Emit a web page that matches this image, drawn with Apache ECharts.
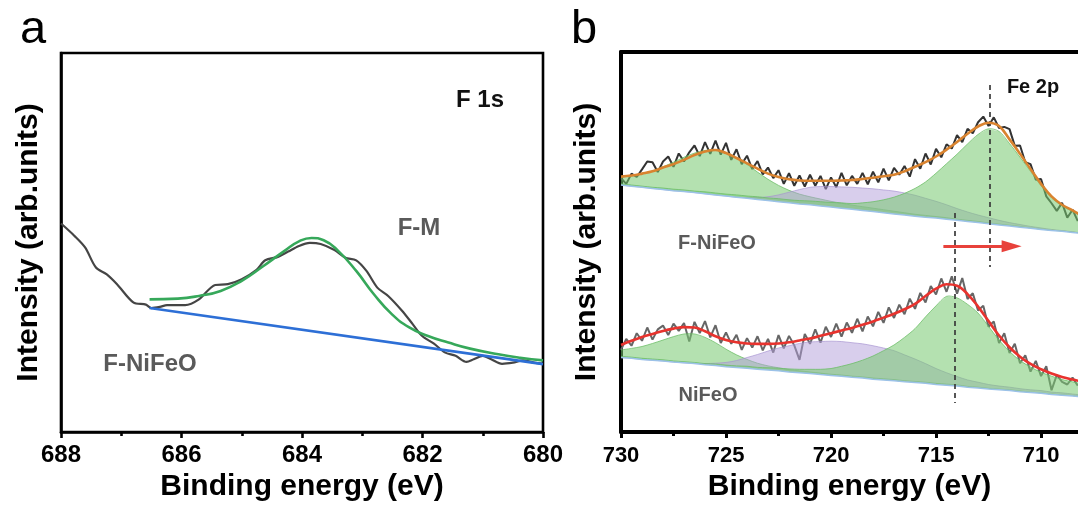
<!DOCTYPE html>
<html>
<head>
<meta charset="utf-8">
<script src="https://cdn.jsdelivr.net/npm/echarts@6/dist/echarts.min.js"></script>
<style>
  html, body { margin: 0; padding: 0; background: #fff; }
  #chart { width: 1078px; height: 508px; }
</style>
</head>
<body>
<div id="chart"></div>
<script>
// ---------- Panel a: F 1s ----------
const f1sTicks = [680, 682, 684, 686, 688];
const f1sEnergy = [688, 687.78, 687.6, 687.42, 687.24, 687.07, 686.8, 686.59, 686.5, 686.36,
  686.24, 685.94, 685.71, 685.44, 685.23, 685.0, 684.76, 684.61, 684.4, 684.23,
  684.05, 683.87, 683.69, 683.46, 683.28, 683.1, 682.93, 682.75, 682.57, 682.34,
  682.16, 682.01, 681.81, 681.63, 681.45, 681.27, 681.15, 681.0, 680.86, 680.68,
  680.5, 680.33, 680.15, 680.0];
const f1sRaw = [55.0, 51.8, 48.7, 43.4, 41.6, 39.0, 34.2, 33.6, 32.7, 33.0,
  33.5, 33.5, 35.0, 38.8, 39.0, 40.3, 42.7, 45.3, 46.2, 47.6,
  49.1, 49.9, 49.6, 48.0, 46.0, 45.3, 42.5, 38.1, 35.9, 32.0,
  28.4, 25.4, 23.3, 21.0, 20.1, 18.5, 19.2, 20.1, 19.2, 18.0,
  18.3, 18.9, 18.3, 18.0];
const f1sFitEnergy = [686.53, 686.06, 685.71, 685.35, 685.0, 684.64, 684.29, 684.05, 683.84, 683.64,
  683.4, 683.1, 682.81, 682.51, 682.22, 681.92, 681.57, 681.21, 680.74, 680.38, 680.0];
const f1sFit = [35.0, 35.2, 35.9, 37.2, 39.9, 43.8, 47.8, 50.3, 51.2, 50.6,
  47.8, 42.5, 36.4, 31.1, 27.6, 25.4, 23.6, 22.0, 20.5, 19.6, 18.9];
const f1sBgEnergy = [686.53, 680.0];
const f1sBg = [32.7, 17.9];

// ---------- Panel b: Fe 2p ----------
const fe2pRange = [708.24, 730];
const fe2pTicks = [710, 715, 720, 725, 730];
const fe2pMinorTicks = [712.5, 717.5, 722.5, 727.5];
const fe2pRawEnergy = [
  730, 729.75, 729.5, 729.25, 729, 728.75, 728.5, 728.25,
  728, 727.75, 727.5, 727.25, 727, 726.75, 726.5, 726.25,
  726, 725.75, 725.5, 725.25, 725, 724.75, 724.5, 724.25,
  724, 723.75, 723.5, 723.25, 723, 722.75, 722.5, 722.25,
  722, 721.75, 721.5, 721.25, 721, 720.75, 720.5, 720.25,
  720, 719.75, 719.5, 719.25, 719, 718.75, 718.5, 718.25,
  718, 717.75, 717.5, 717.25, 717, 716.75, 716.5, 716.25,
  716, 715.75, 715.5, 715.25, 715, 714.75, 714.5, 714.25,
  714, 713.75, 713.5, 713.25, 713, 712.75, 712.5, 712.25,
  712, 711.75, 711.5, 711.25, 711, 710.75, 710.5, 710.25,
  710, 709.75, 709.5, 709.25, 709, 708.75, 708.5, 708.25];
const fe2pFitEnergy = [
  730, 729.5, 729, 728.5, 728, 727.5, 727, 726.5, 726,
  725.5, 725, 724.5, 724, 723.5, 723, 722.5, 722, 721.5,
  721, 720.5, 720, 719.5, 719, 718.5, 718, 717.5, 717,
  716.5, 716, 715.5, 715, 714.5, 714, 713.5, 713, 712.5,
  712, 711.5, 711, 710.5, 710, 709.5, 709, 708.5, 708];

// F-NiFeO
const fNiFeORaw = [
  66.8, 65.3, 68.0, 67.1, 69.1, 71.2, 71.0, 68.4,
  71.2, 72.5, 69.8, 73.3, 71.2, 73.6, 75.4, 72.6,
  76.3, 73.2, 76.7, 73.0, 76.1, 71.6, 74.4, 70.5,
  72.7, 69.2, 71.3, 67.8, 69.6, 66.8, 68.9, 65.3,
  68.1, 64.8, 67.5, 64.6, 67.7, 64.8, 67.4, 63.9,
  67.0, 64.4, 68.2, 64.9, 67.4, 65.3, 68.2, 65.2,
  68.5, 65.7, 69.3, 66.2, 69.5, 67.7, 70.0, 67.2,
  71.8, 69.3, 73.3, 70.4, 74.5, 72.3, 75.7, 74.6,
  78.1, 76.3, 79.8, 78.6, 81.5, 83.0, 80.5, 82.8,
  80.0, 80.3, 79.7, 75.3, 75.4, 71.0, 70.5, 66.4,
  66.6, 62.0, 60.2, 58.2, 60.3, 56.4, 58.5, 55.5];
const fNiFeOFit = [
  67.2, 67.5, 68.0, 68.6, 69.6, 70.5, 71.6, 72.9, 73.8,
  74.2, 73.4, 72.1, 70.7, 69.3, 68.0, 67.1, 66.5, 66.2,
  66.1, 66.1, 66.1, 66.2, 66.3, 66.6, 66.9, 67.3, 67.7,
  68.6, 69.8, 71.0, 72.5, 74.3, 76.3, 78.5, 80.4, 81.4,
  80.5, 77.0, 73.2, 69.2, 65.3, 62.0, 59.8, 58.3, 56.8];
const fNiFeOBg = [
  65.0, 64.7, 64.4, 64.1, 63.8, 63.5, 63.3, 63.0, 62.7,
  62.4, 62.1, 61.8, 61.5, 61.2, 60.9, 60.6, 60.3, 60.0,
  59.8, 59.5, 59.2, 58.9, 58.6, 58.3, 58.0, 57.7, 57.4,
  57.1, 56.8, 56.5, 56.3, 56.0, 55.7, 55.4, 55.1, 54.8,
  54.5, 54.2, 53.9, 53.6, 53.3, 53.0, 52.8, 52.5, 52.2];
const fNiFeOPeak1 = [
  2.1, 2.7, 3.5, 4.6, 6.0, 7.5, 9.0, 10.4, 11.4,
  11.8, 11.4, 10.4, 8.9, 7.2, 5.6, 4.3, 3.3, 2.6,
  2.1, 1.8, 1.5, 1.3, 1.1, 1.0, 0.9, 0.8, 0.7,
  0.6, 0.5, 0.5, 0.4, 0.4, 0.3, 0.3, 0.3, 0.2,
  0.2, 0.2, 0.2, 0.1, 0.1, 0.1, 0.1, 0.1, 0.1];
const fNiFeOSat = [
  0, 0, 0, 0, 0, 0, 0, 0, 0,
  0, 0, 0, 0.2, 0.5, 1.0, 1.8, 2.8, 3.8,
  4.6, 5.1, 5.4, 5.6, 5.8, 5.9, 6.0, 6.0, 6.0,
  5.8, 5.5, 5.0, 4.4, 3.8, 3.1, 2.5, 2.0, 1.6,
  1.2, 0.9, 0.7, 0.5, 0.4, 0.3, 0.2, 0.2, 0.1];
const fNiFeOPeak2 = [
  0.3, 0.3, 0.3, 0.3, 0.4, 0.4, 0.4, 0.4, 0.5,
  0.5, 0.5, 0.6, 0.6, 0.7, 0.7, 0.8, 0.8, 0.9,
  1.0, 1.1, 1.2, 1.4, 1.5, 2.0, 2.6, 3.4, 4.4,
  5.7, 7.3, 9.3, 11.8, 14.6, 17.4, 20.4, 23.2, 25.0,
  24.6, 21.7, 18.4, 15.0, 11.5, 8.6, 6.7, 5.5, 4.4];

// NiFeO
const niFeORaw = [
  21.6, 24.5, 22.7, 26.0, 24.0, 27.5, 24.3, 27.0,
  28.0, 25.5, 28.5, 26.6, 28.7, 23.8, 29.0, 26.0,
  29.2, 24.9, 28.1, 23.4, 26.2, 23.2, 25.6, 21.6,
  24.7, 22.2, 25.2, 21.5, 24.5, 20.9, 25.5, 22.0,
  25.3, 22.8, 19.0, 25.8, 23.2, 27.0, 23.5, 27.7,
  25.0, 28.5, 25.1, 28.8, 26.1, 29.8, 26.5, 30.4,
  27.8, 31.6, 28.7, 32.8, 30.0, 33.5, 31.0, 35.1,
  32.4, 36.6, 34.1, 38.4, 36.2, 40.4, 36.9, 41.0,
  36.4, 40.5, 35.0, 36.5, 32.0, 33.2, 27.7, 29.1,
  23.4, 26.0, 20.8, 23.2, 18.1, 20.2, 15.9, 18.7,
  14.7, 17.3, 11.0, 15.0, 13.2, 12.5, 14.3, 12.2];
const niFeOFit = [
  22.9, 24.0, 25.0, 25.8, 26.6, 27.2, 27.6, 27.5, 26.5,
  25.2, 24.2, 23.6, 23.3, 23.2, 23.2, 23.3, 23.6, 24.1,
  24.6, 25.3, 26.0, 26.7, 27.4, 28.2, 29.1, 30.1, 31.1,
  32.3, 33.7, 35.8, 37.7, 38.9, 38.5, 36.3, 33.0, 29.2,
  25.4, 22.3, 19.8, 17.9, 16.5, 15.4, 14.5, 13.8, 13.2];
const niFeOBg = [
  19.6, 19.4, 19.1, 18.9, 18.7, 18.4, 18.2, 18.0, 17.7,
  17.5, 17.2, 17.0, 16.8, 16.5, 16.3, 16.1, 15.8, 15.6,
  15.4, 15.1, 14.9, 14.7, 14.4, 14.2, 13.9, 13.7, 13.5,
  13.2, 13.0, 12.8, 12.5, 12.3, 12.1, 11.8, 11.6, 11.3,
  11.1, 10.9, 10.6, 10.4, 10.2, 9.9, 9.7, 9.5, 9.2];
const niFeOPeak1 = [
  2.0, 2.6, 3.4, 4.4, 5.5, 6.7, 7.6, 7.8, 7.2,
  6.0, 4.6, 3.3, 2.3, 1.6, 1.1, 0.8, 0.6, 0.5,
  0.4, 0.4, 0.3, 0.3, 0.3, 0.3, 0.3, 0.3, 0.3,
  0.3, 0.3, 0.3, 0.3, 0.3, 0.3, 0.2, 0.2, 0.2,
  0.2, 0.2, 0.2, 0.1, 0.1, 0.1, 0.1, 0.1, 0.1];
const niFeOSat = [
  0, 0, 0, 0, 0, 0, 0, 0, 0.3,
  0.6, 1.1, 1.8, 2.8, 3.9, 5.0, 6.0, 6.9, 7.7,
  8.3, 8.7, 9.0, 9.1, 9.1, 9.0, 8.8, 8.4, 7.9,
  7.1, 6.2, 5.2, 4.2, 3.3, 2.5, 1.9, 1.5, 1.2,
  1.0, 0.9, 0.8, 0.7, 0.7, 0.6, 0.6, 0.5, 0.5];
const niFeOPeak2 = [
  0.3, 0.3, 0.3, 0.3, 0.3, 0.3, 0.3, 0.3, 0.3,
  0.4, 0.4, 0.4, 0.5, 0.5, 0.6, 0.7, 0.8, 0.9,
  1.1, 1.4, 1.8, 2.6, 3.6, 4.7, 6.1, 7.7, 9.4,
  11.7, 14.2, 17.5, 20.7, 23.4, 23.2, 21.8, 19.7, 16.5,
  13.1, 10.3, 8.2, 6.7, 5.5, 4.8, 4.1, 3.7, 3.4];

// Peak-position guides [energy, top, bottom] and shift arrow [from, to, level]
const guideFNiFeO = [712.45, 91.3, 43.4];
const guideNiFeO = [714.1, 57.6, 7.6];
const shiftArrow = [714.65, 711.4, 48.9];

// ---------- helpers ----------
const zip = (xs, ys) => xs.map((x, i) => [x, ys[i]]);
const FONT = "'Liberation Sans', Arial, Helvetica, sans-serif";
const GREEN = 'rgba(118, 200, 112, 0.55)';
const GREEN_EDGE = 'rgba(105, 188, 100, 0.75)';
const PURPLE = 'rgba(178, 158, 218, 0.5)';
const PURPLE_EDGE = 'rgba(165, 145, 208, 0.65)';

// A fitted component: band between the background and background + component
function component(bg, heights, fill, edge) {
  const rows = fe2pFitEnergy.map((e, i) => [e, bg[i], bg[i] + heights[i]]);
  return {
    type: 'custom', xAxisIndex: 1, yAxisIndex: 1, silent: true, clip: true, z: 3,
    data: rows,
    encode: { x: 0, y: [1, 2] },
    renderItem: function (params, api) {
      if (params.dataIndex !== 0) return null;   // the whole band is one polygon
      const top = rows.map(r => api.coord([r[0], r[2]]));
      const bottom = rows.map(r => api.coord([r[0], r[1]])).reverse();
      return {
        type: 'group',
        children: [
          { type: 'polygon', shape: { points: top.concat(bottom) },
            style: { fill: fill, stroke: null } },
          { type: 'polyline', shape: { points: top, smooth: 0.3 },
            style: { fill: null, stroke: edge, lineWidth: 1 } }
        ]
      };
    }
  };
}

const chart = echarts.init(document.getElementById('chart'), null, { renderer: 'canvas' });

const titleStyle = { color: '#000', fontFamily: FONT, fontWeight: 'bold', fontSize: 30 };

const option = {
  animation: false,
  backgroundColor: '#fff',
  grid: [
    { left: 61, top: 53, width: 482, height: 379, show: true, borderColor: '#000', borderWidth: 2.6, backgroundColor: 'transparent' },
    { left: 621, top: 52, right: 0, height: 380, show: false }
  ],
  xAxis: [
    { // panel a
      gridIndex: 0, type: 'value', inverse: true,
      min: Math.min(...f1sTicks), max: Math.max(...f1sTicks), interval: f1sTicks[1] - f1sTicks[0],
      axisLine: { show: true, onZero: false, lineStyle: { color: '#000', width: 2.6 } },
      axisTick: { show: true, inside: false, length: 6, lineStyle: { color: '#000', width: 2.6 } },
      minorTick: { show: true, splitNumber: 2, length: 4, lineStyle: { color: '#000', width: 2.6 } },
      splitLine: { show: false },
      axisLabel: { color: '#000', fontFamily: FONT, fontWeight: 'bold', fontSize: 24, margin: 11 },
      name: 'Binding energy (eV)', nameLocation: 'middle', nameGap: 31, nameTextStyle: titleStyle
    },
    { // panel b, major ticks and labels
      gridIndex: 1, type: 'value', inverse: true, position: 'bottom',
      min: fe2pRange[0], max: fe2pRange[1],
      axisLine: { show: true, onZero: false, lineStyle: { color: '#000', width: 4 } },
      axisTick: { show: true, inside: false, length: 6, customValues: fe2pTicks, lineStyle: { color: '#000', width: 3 } },
      splitLine: { show: false },
      axisLabel: { color: '#000', fontFamily: FONT, fontWeight: 'bold', fontSize: 22, margin: 13,
                   customValues: fe2pTicks, showMinLabel: true, showMaxLabel: true },
      name: 'Binding energy (eV)', nameLocation: 'middle', nameGap: 31, nameTextStyle: titleStyle
    },
    { // panel b, minor ticks
      gridIndex: 1, type: 'value', inverse: true, position: 'bottom',
      min: fe2pRange[0], max: fe2pRange[1],
      axisLine: { show: false, onZero: false },
      axisTick: { show: true, inside: false, length: 4, customValues: fe2pMinorTicks, lineStyle: { color: '#000', width: 3 } },
      axisLabel: { show: false }, splitLine: { show: false }
    },
    { // panel b, top frame
      gridIndex: 1, type: 'value', inverse: true, position: 'top',
      min: fe2pRange[0], max: fe2pRange[1],
      axisLine: { show: true, onZero: false, lineStyle: { color: '#000', width: 4 } },
      axisTick: { show: false }, axisLabel: { show: false }, splitLine: { show: false }
    }
  ],
  yAxis: [
    { gridIndex: 0, type: 'value', min: 0, max: 100,
      axisLine: { show: true, lineStyle: { color: '#000', width: 2.6 } },
      axisTick: { show: false }, axisLabel: { show: false }, splitLine: { show: false },
      name: 'Intensity (arb.units)', nameLocation: 'middle', nameGap: 17, nameTextStyle: titleStyle },
    { gridIndex: 1, type: 'value', min: 0, max: 100,
      axisLine: { show: true, lineStyle: { color: '#000', width: 4 } },
      axisTick: { show: false }, axisLabel: { show: false }, splitLine: { show: false },
      name: 'Intensity (arb.units)', nameLocation: 'middle', nameGap: 19, nameTextStyle: titleStyle }
  ],
  series: [
    // panel a
    { type: 'line', xAxisIndex: 0, yAxisIndex: 0, symbol: 'none', smooth: 0.3,
      data: zip(f1sEnergy, f1sRaw), lineStyle: { color: '#454545', width: 2.2 }, z: 3 },
    { type: 'line', xAxisIndex: 0, yAxisIndex: 0, symbol: 'none',
      data: zip(f1sBgEnergy, f1sBg), lineStyle: { color: '#2d6fd6', width: 2.6 }, z: 4 },
    { type: 'line', xAxisIndex: 0, yAxisIndex: 0, symbol: 'none', smooth: true,
      data: zip(f1sFitEnergy, f1sFit), lineStyle: { color: '#36a85a', width: 2.6 }, z: 5 },

    // panel b: raw spectra (beneath the component fills)
    { type: 'line', xAxisIndex: 1, yAxisIndex: 1, symbol: 'none',
      data: zip(fe2pRawEnergy, fNiFeORaw), lineStyle: { color: '#333', width: 2 }, z: 2 },
    { type: 'line', xAxisIndex: 1, yAxisIndex: 1, symbol: 'none',
      data: zip(fe2pRawEnergy, niFeORaw), lineStyle: { color: '#666', width: 2 }, z: 2 },

    // F-NiFeO components
    component(fNiFeOBg, fNiFeOPeak1, GREEN, GREEN_EDGE),
    component(fNiFeOBg, fNiFeOSat, PURPLE, PURPLE_EDGE),
    component(fNiFeOBg, fNiFeOPeak2, GREEN, GREEN_EDGE),
    // NiFeO components
    component(niFeOBg, niFeOPeak1, GREEN, GREEN_EDGE),
    component(niFeOBg, niFeOSat, PURPLE, PURPLE_EDGE),
    component(niFeOBg, niFeOPeak2, GREEN, GREEN_EDGE),

    // backgrounds
    { type: 'line', xAxisIndex: 1, yAxisIndex: 1, symbol: 'none',
      data: zip(fe2pFitEnergy, fNiFeOBg), lineStyle: { color: '#9cc2e8', width: 1.5 }, z: 4 },
    { type: 'line', xAxisIndex: 1, yAxisIndex: 1, symbol: 'none',
      data: zip(fe2pFitEnergy, niFeOBg), lineStyle: { color: '#9cc2e8', width: 1.5 }, z: 4 },

    // envelopes
    { type: 'line', xAxisIndex: 1, yAxisIndex: 1, symbol: 'none', smooth: 0.4,
      data: zip(fe2pFitEnergy, fNiFeOFit), lineStyle: { color: '#d9832f', width: 2.6 }, z: 5,
      markLine: {
        silent: true, symbol: 'none', animation: false, label: { show: false },
        lineStyle: { type: [5, 4], color: '#3a3a3a', width: 1.7 },
        data: [
          [{ coord: [guideFNiFeO[0], guideFNiFeO[1]] }, { coord: [guideFNiFeO[0], guideFNiFeO[2]] }],
          [{ coord: [guideNiFeO[0], guideNiFeO[1]] }, { coord: [guideNiFeO[0], guideNiFeO[2]] }]
        ]
      } },
    { type: 'line', xAxisIndex: 1, yAxisIndex: 1, symbol: 'none', smooth: 0.4,
      data: zip(fe2pFitEnergy, niFeOFit), lineStyle: { color: '#e8332e', width: 2.6 }, z: 5,
      markLine: {
        silent: true, animation: false, label: { show: false },
        symbol: ['none', 'triangle'], symbolSize: [12, 20],
        lineStyle: { type: 'solid', color: '#e8413b', width: 3 },
        data: [
          [{ coord: [shiftArrow[0], shiftArrow[2]] }, { coord: [shiftArrow[1], shiftArrow[2]] }]
        ]
      } }
  ],
  graphic: [
    { type: 'text', x: 20, y: 30, z: 100, style: { text: 'a', font: 'normal 47px ' + FONT, fill: '#000', align: 'left', verticalAlign: 'middle' } },
    { type: 'text', x: 571, y: 30, z: 100, style: { text: 'b', font: 'normal 47px ' + FONT, fill: '#000', align: 'left', verticalAlign: 'middle' } },
    { type: 'text', x: 480, y: 100, z: 100, style: { text: 'F 1s', font: 'bold 24px ' + FONT, fill: '#111', align: 'center', verticalAlign: 'middle' } },
    { type: 'text', x: 419, y: 228, z: 100, style: { text: 'F-M', font: 'bold 24px ' + FONT, fill: '#5a5a5a', align: 'center', verticalAlign: 'middle' } },
    { type: 'text', x: 150, y: 364, z: 100, style: { text: 'F-NiFeO', font: 'bold 24px ' + FONT, fill: '#5a5a5a', align: 'center', verticalAlign: 'middle' } },
    { type: 'text', x: 1033, y: 87, z: 100, style: { text: 'Fe 2p', font: 'bold 20px ' + FONT, fill: '#111', align: 'center', verticalAlign: 'middle' } },
    { type: 'text', x: 717, y: 243, z: 100, style: { text: 'F-NiFeO', font: 'bold 20px ' + FONT, fill: '#5a5a5a', align: 'center', verticalAlign: 'middle' } },
    { type: 'text', x: 708, y: 395, z: 100, style: { text: 'NiFeO', font: 'bold 20px ' + FONT, fill: '#5a5a5a', align: 'center', verticalAlign: 'middle' } }
  ]
};

chart.setOption(option);
</script>
</body>
</html>
